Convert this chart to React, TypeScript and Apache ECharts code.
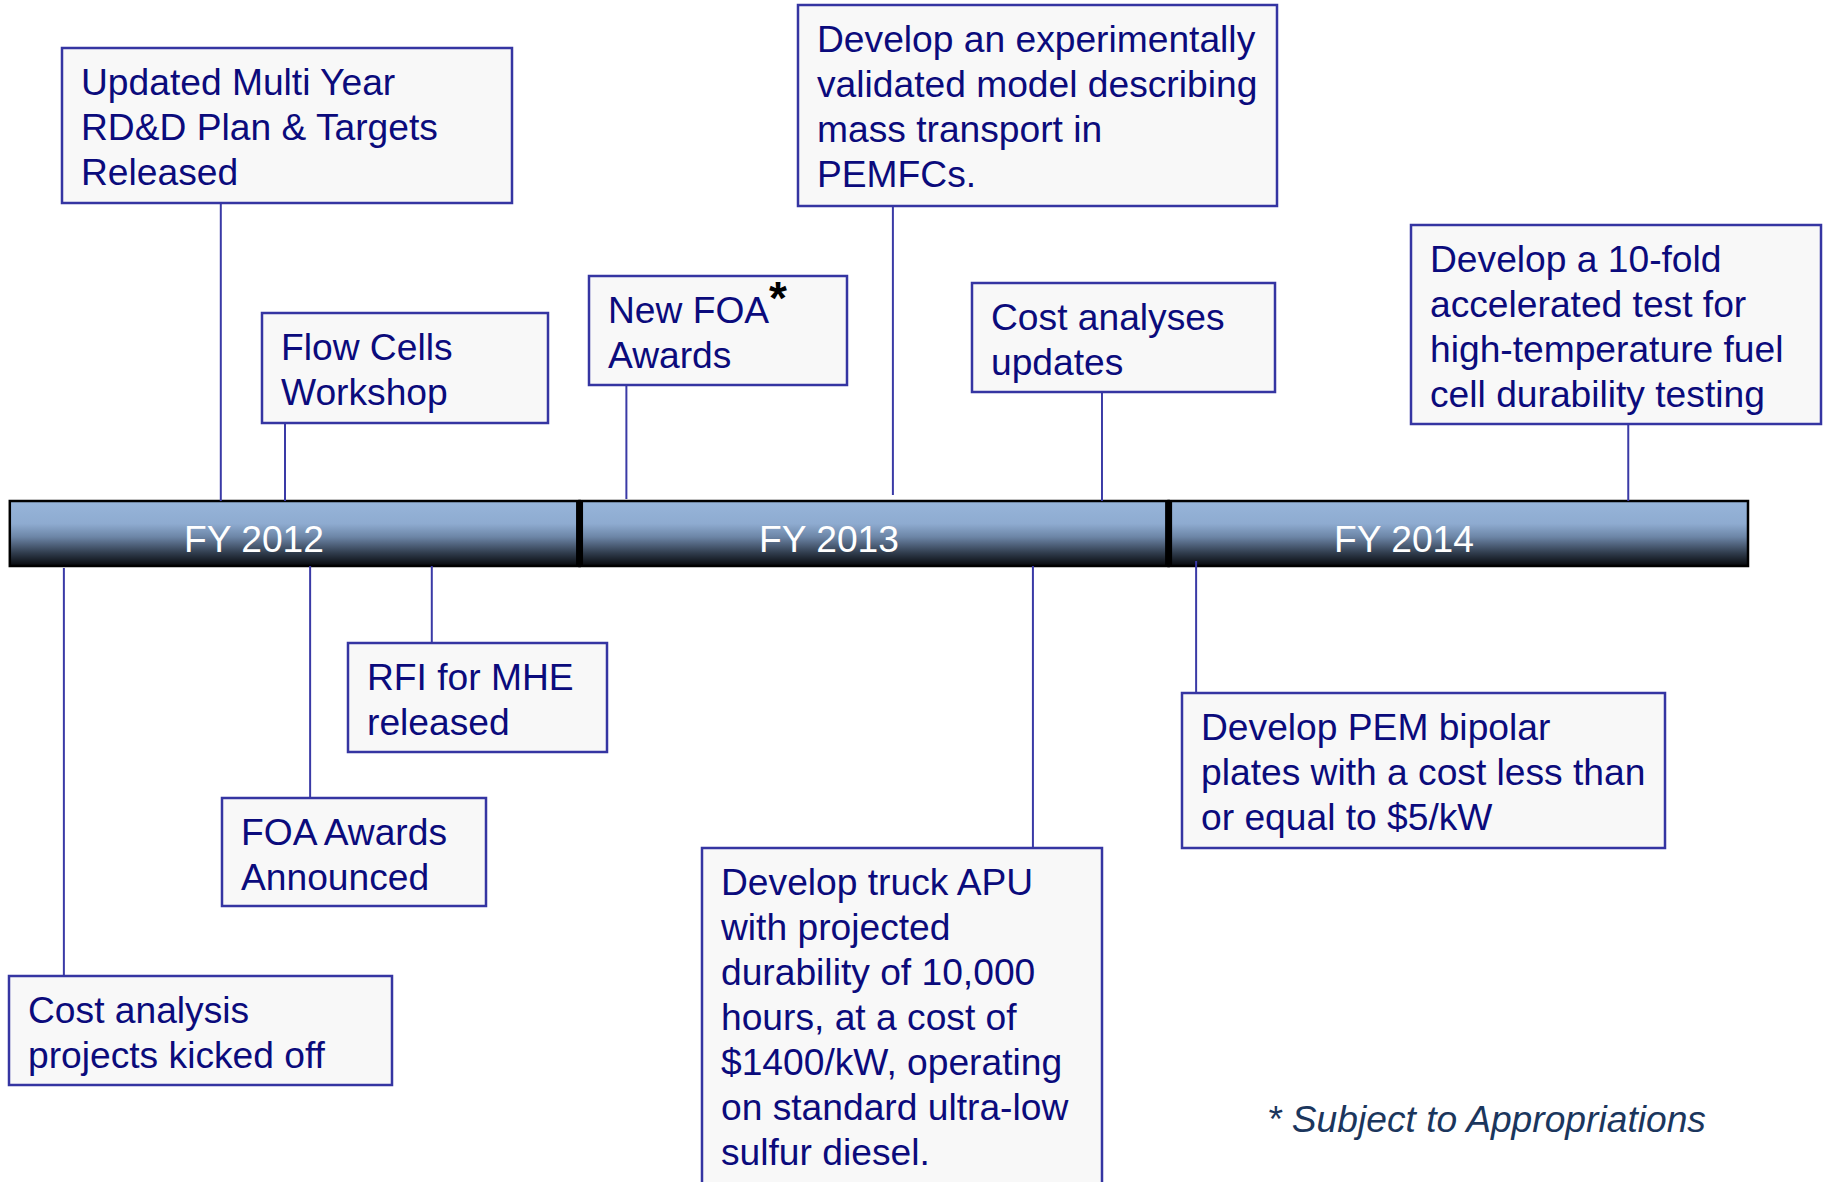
import React, { useEffect, useRef } from 'react';
import * as echarts from 'echarts';

// ---------- DATA ----------
const fiscalYears = ['FY 2012', 'FY 2013', 'FY 2014'];
// months counted from the start of FY 2012
const fiscalYearStart = [0, 11.8, 24];
const fiscalYearEnd = [11.8, 24, 36];

const milestoneTexts = [
  'Updated Multi Year\nRD&D Plan & Targets\nReleased',
  'Flow Cells\nWorkshop',
  'New FOA\nAwards',
  'Develop an experimentally\nvalidated model describing\nmass transport in\nPEMFCs.',
  'Cost analyses\nupdates',
  'Develop a 10-fold\naccelerated test for\nhigh-temperature fuel\ncell durability testing',
  'Cost analysis\nprojects kicked off',
  'FOA Awards\nAnnounced',
  'RFI for MHE\nreleased',
  'Develop truck APU\nwith projected\ndurability of 10,000\nhours, at a cost of\n$1400/kW, operating\non standard ultra-low\nsulfur diesel.',
  'Develop PEM bipolar\nplates with a cost less than\nor equal to $5/kW',
];
const milestoneMonths = [4.37, 5.7, 12.77, 18.29, 22.62, 33.52, 1.12, 6.22, 8.74, 21.19, 24.57];
const milestoneSide = ['above', 'above', 'above', 'above', 'above', 'above', 'below', 'below', 'below', 'below', 'below'];
const milestoneMark = ['', '', '*', '', '', '', '', '', '', '', ''];
const footnote = '* Subject to Appropriations';

// ---------- LAYOUT (pixels) ----------
const BAR_TOP = 501;
const BAR_BOTTOM = 566;
const FY_LABEL_X = [254, 829, 1404];
const BOXES = [
  [62, 48, 512, 203],
  [262, 313, 548, 423],
  [589, 276, 847, 385],
  [798, 5, 1277, 206],
  [972, 283, 1275, 392],
  [1411, 225, 1821, 424],
  [9, 976, 392, 1085],
  [222, 798, 486, 906],
  [348, 643, 607, 752],
  [702, 848, 1102, 1200],
  [1182, 693, 1665, 848],
];
const LINE_BAR_END = [501, 501, 499, 495, 501, 501, 568, 566, 566, 566, 561];
const MARK_POS = [0, 0, 189, 0, 0, 0, 0, 0, 0, 0, 0];

const FONT = '"Liberation Sans", Arial, Helvetica, sans-serif';
const FONT_SIZE = 37.2;
const TEXT_COLOR = '#0b0b7c';
const BOX_STROKE = '#3535a2';
const LINE_COLOR = '#3a3aa6';

export default function App() {
  const ref = useRef<HTMLDivElement>(null);
  useEffect(() => {
    document.body.style.margin = '0';
    const chart = echarts.init(ref.current!, null, { renderer: 'svg' });
    const gradient = new echarts.graphic.LinearGradient(0, 0, 0, 1, [
      { offset: 0, color: '#97b5da' },
      { offset: 0.35, color: '#8eabd0' },
      { offset: 0.55, color: '#6d86a7' },
      { offset: 0.8, color: '#303c4d' },
      { offset: 1, color: '#06080b' },
    ]);
    const option: any = {
      animation: false,
      backgroundColor: '#ffffff',
      grid: { left: 9.8, right: 78, top: 0, bottom: 0 },
      xAxis: { type: 'value', min: 0, max: 36, show: false },
      yAxis: { type: 'value', min: 0, max: 1182, inverse: true, show: false },
      series: [
        {
          type: 'custom',
          name: 'timeline',
          silent: true,
          clip: false,
          data: fiscalYears.map((n, i) => [fiscalYearStart[i], fiscalYearEnd[i], i]),
          encode: { x: [0, 1] },
          renderItem: (params: any, api: any) => {
            const i = params.dataIndex;
            const p0 = api.coord([api.value(0), BAR_TOP]);
            const p1 = api.coord([api.value(1), BAR_BOTTOM]);
            const w = p1[0] - p0[0];
            const h = p1[1] - p0[1];
            const children: any[] = [
              {
                type: 'rect',
                shape: { x: p0[0], y: p0[1], width: w, height: h },
                style: { fill: gradient, stroke: '#000', lineWidth: 2.5 },
              },
              {
                type: 'text',
                style: {
                  text: fiscalYears[i],
                  x: FY_LABEL_X[i],
                  y: p0[1] + h / 2 + 5,
                  align: 'center',
                  verticalAlign: 'middle',
                  fill: '#ffffff',
                  fontSize: FONT_SIZE,
                  fontFamily: FONT,
                },
              },
            ];
            if (i > 0) {
              children.push({
                type: 'rect',
                shape: { x: p0[0] - 3.5, y: p0[1], width: 7, height: h },
                style: { fill: '#000' },
              });
            }
            return { type: 'group', children };
          },
        },
        {
          type: 'custom',
          name: 'milestones',
          silent: true,
          clip: false,
          data: milestoneMonths.map((m, i) => [m, i]),
          encode: { x: 0 },
          renderItem: (params: any, api: any) => {
            const i = params.dataIndex;
            const x = api.coord([api.value(0), 0])[0];
            const b = BOXES[i];
            const above = milestoneSide[i] === 'above';
            const y1 = above ? b[3] : LINE_BAR_END[i];
            const y2 = above ? LINE_BAR_END[i] : b[1];
            const children: any[] = [
              {
                type: 'line',
                shape: { x1: x, y1, x2: x, y2 },
                style: { stroke: LINE_COLOR, lineWidth: 2 },
              },
              {
                type: 'rect',
                shape: { x: b[0], y: b[1], width: b[2] - b[0], height: b[3] - b[1] },
                style: { fill: '#f8f8f8', stroke: BOX_STROKE, lineWidth: 2.5 },
              },
              {
                type: 'text',
                style: {
                  text: milestoneTexts[i],
                  x: b[0] + 19,
                  y: b[1] + 11,
                  align: 'left',
                  verticalAlign: 'top',
                  lineHeight: 45,
                  fill: TEXT_COLOR,
                  fontSize: FONT_SIZE,
                  fontFamily: FONT,
                },
              },
            ];
            if (milestoneMark[i]) {
              children.push({
                type: 'text',
                style: {
                  text: milestoneMark[i],
                  x: b[0] + MARK_POS[i],
                  y: b[1] + 22,
                  align: 'center',
                  verticalAlign: 'middle',
                  fill: '#000',
                  fontSize: 46,
                  fontWeight: 'bold',
                  fontFamily: FONT,
                },
              });
            }
            return { type: 'group', children };
          },
        },
      ],
      graphic: [
        {
          type: 'text',
          left: 1267,
          top: 1100,
          style: {
            text: footnote,
            fill: '#1b365d',
            fontSize: FONT_SIZE,
            fontStyle: 'italic',
            fontFamily: FONT,
          },
        },
      ],
    };
    chart.setOption(option);
    return () => chart.dispose();
  }, []);
  return <div ref={ref} style={{ width: 1826, height: 1182, background: '#fff' }} />;
}
